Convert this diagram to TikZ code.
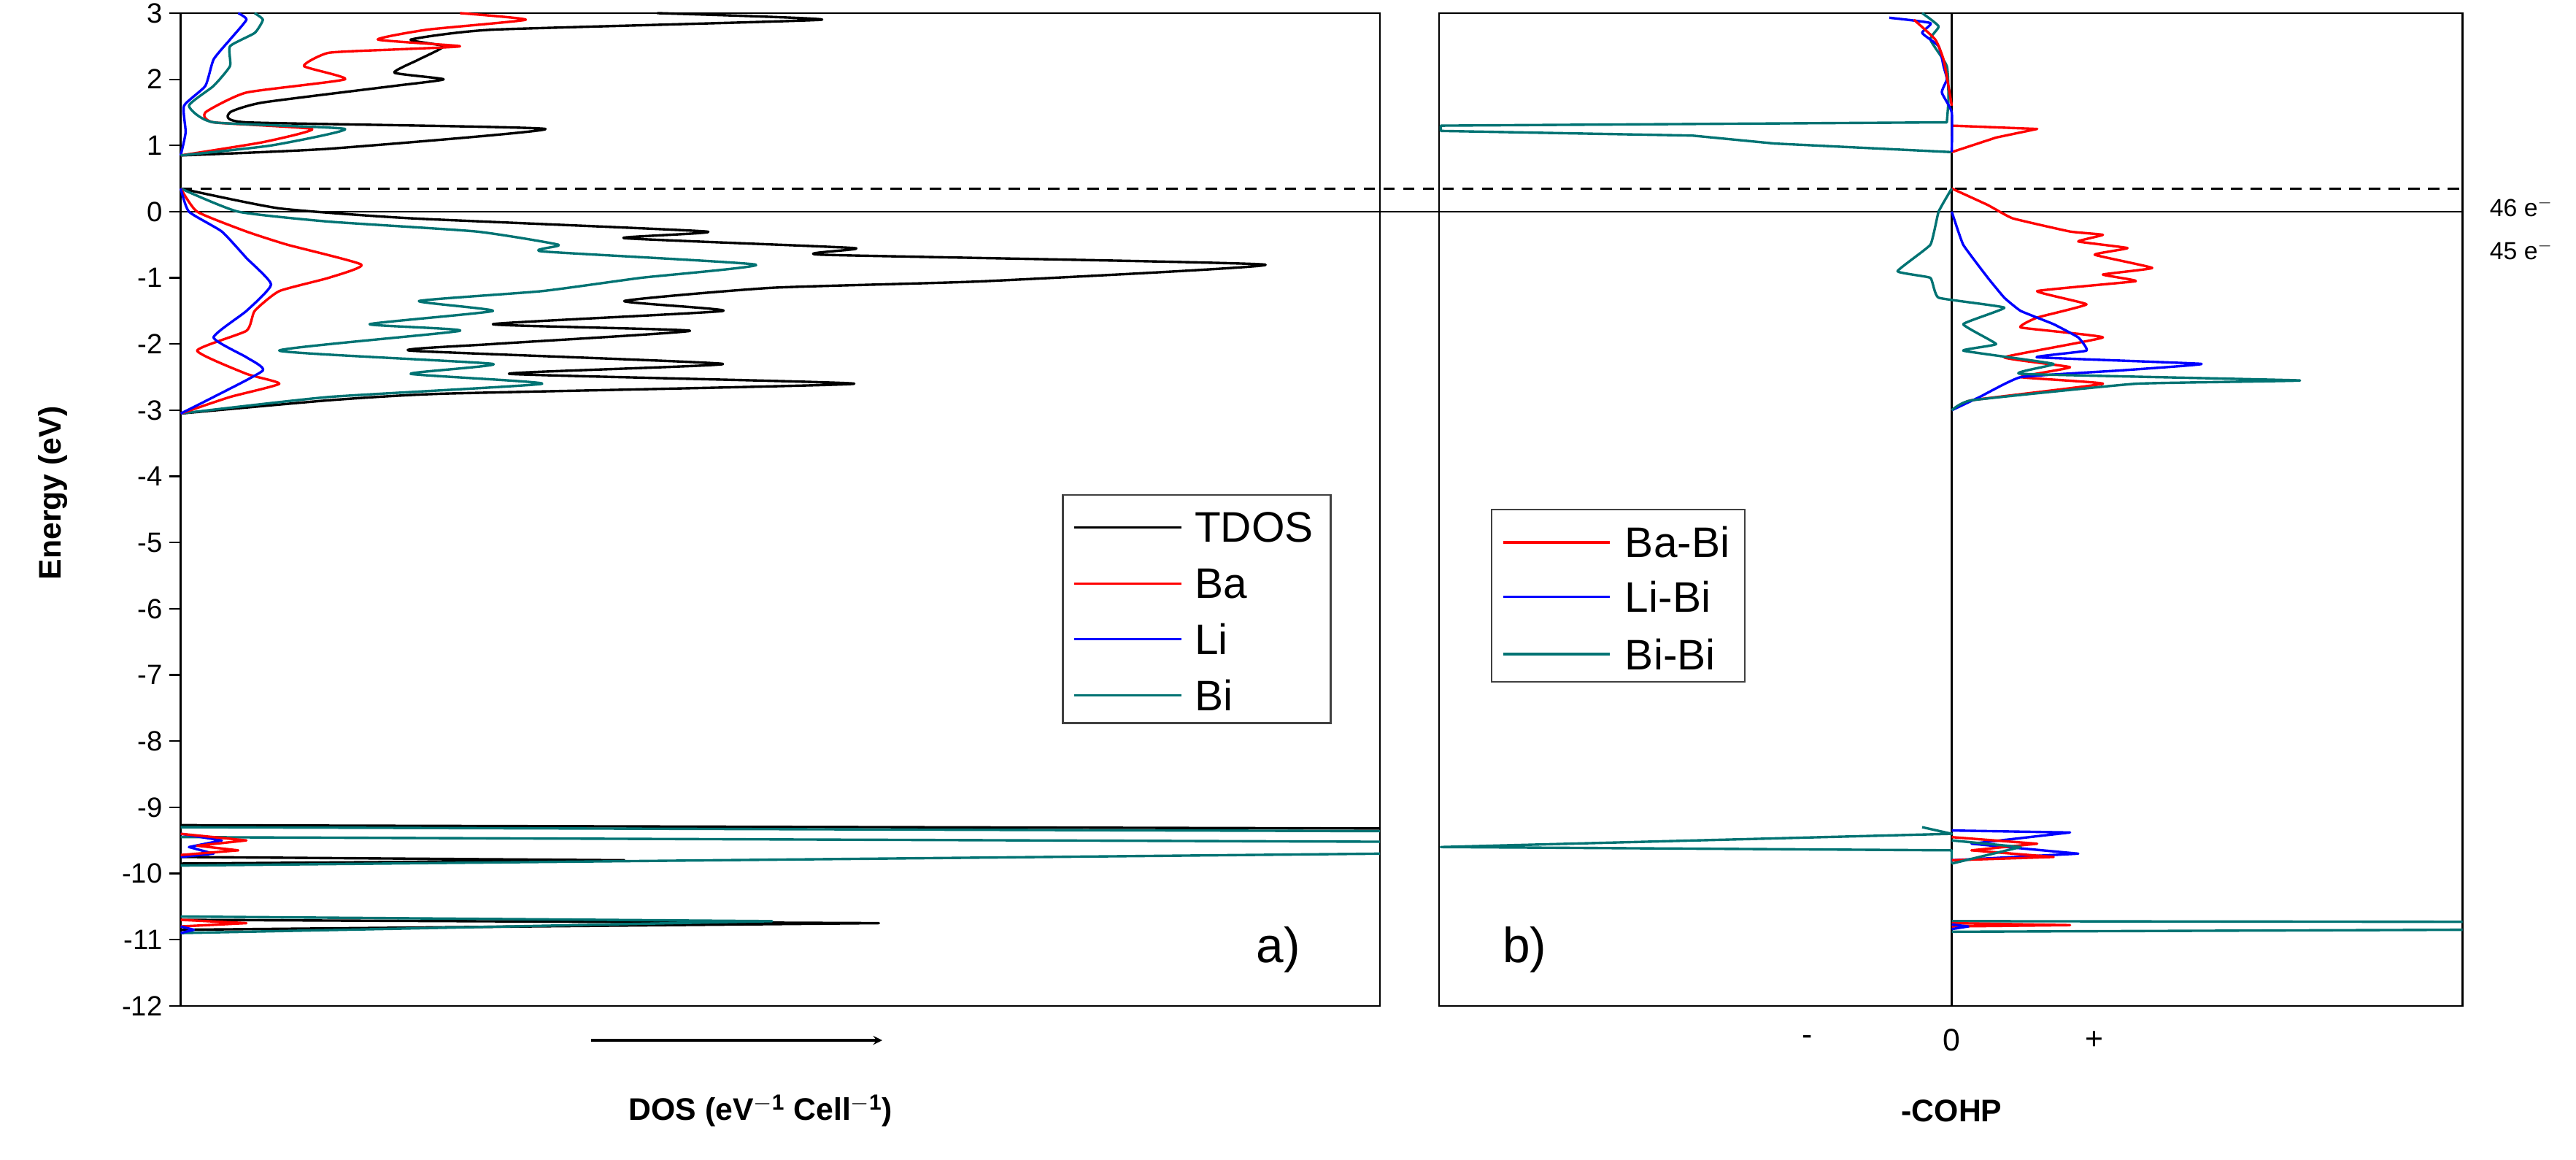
\documentclass[tikz,border=0pt]{standalone}
\usepackage{fontspec}
\setmainfont{Liberation Sans}
\begin{document}
\begin{tikzpicture}[x=1pt,y=1pt,
  crv/.style={line width=1.5pt,line join=round},
  tdos/.style={crv,black}, ba/.style={crv,red}, li/.style={crv,blue}, bi/.style={crv,teal!90!black},
  frame/.style={line width=1.2pt},
  tl/.style={font=\fontsize{17}{17}\selectfont,anchor=east,inner sep=2pt},
  lgt/.style={anchor=west,inner sep=0pt,font=\fontsize{26}{26}\selectfont},
  ttl/.style={font=\bfseries\fontsize{19}{19}\selectfont}]
\definecolor{teal}{RGB}{0,128,128}
\useasboundingbox (0,0) rectangle (1568,-705.4);
\begin{scope}[y=40.27pt,yshift=-128.8pt]
% frames
\draw[frame] (110,-12) rectangle (840,3);
\draw[frame] (876,-12) rectangle (1499,3);
\draw[line width=1pt] (1188,-12) -- (1188,3);
\draw[line width=1.2pt] (110,0) -- (1499,0);
\draw[line width=1.2pt,dash pattern=on 7pt off 5pt] (110,0.35) -- (1499,0.35);
% ticks and labels
\foreach \e in {3,2,...,-12}{
  \draw[line width=1pt] (110,\e) -- (103,\e);
  \node[tl] at (101,\e) {\e};
}
% panel a upper band
\draw[tdos] plot[smooth,tension=0.3] coordinates {(110,0.85)(200,0.95)(332,1.25)(150,1.35)(140,1.5)(160,1.65)(240,1.9)(270,2.0)(240,2.1)(255,2.3)(270,2.5)(250,2.6)(300,2.75)(500,2.9)(400,3.0)};
\draw[ba] plot[smooth,tension=0.3] coordinates {(110,0.85)(160,1.05)(190,1.25)(130,1.35)(125,1.5)(150,1.8)(210,2.0)(185,2.2)(200,2.4)(240,2.45)(280,2.5)(230,2.6)(260,2.75)(320,2.9)(280,3.0)};
\draw[li] plot[smooth,tension=0.3] coordinates {(110,0.85)(113,1.2)(112,1.6)(125,1.9)(130,2.3)(140,2.6)(150,2.9)(145,3.0)};
\draw[bi] plot[smooth,tension=0.3] coordinates {(110,0.85)(165,1.0)(210,1.25)(130,1.35)(115,1.6)(130,1.9)(140,2.2)(140,2.5)(155,2.7)(160,2.9)(155,3.0)};
% panel a lower band
\draw[tdos] plot[smooth,tension=0.3] coordinates {(110,-3.05)(200,-2.85)(270,-2.75)(520,-2.6)(310,-2.45)(440,-2.3)(250,-2.1)(300,-2.0)(420,-1.8)(300,-1.7)(440,-1.5)(380,-1.35)(470,-1.15)(600,-1.05)(770,-0.8)(500,-0.65)(520,-0.55)(380,-0.4)(430,-0.3)(250,-0.1)(170,0.05)(110,0.35)};
\draw[bi] plot[smooth,tension=0.3] coordinates {(110,-3.05)(200,-2.8)(330,-2.6)(250,-2.45)(300,-2.3)(170,-2.1)(280,-1.8)(225,-1.7)(300,-1.5)(255,-1.35)(330,-1.2)(390,-1.0)(460,-0.8)(330,-0.6)(340,-0.5)(290,-0.3)(200,-0.15)(145,0.0)(110,0.35)};
\draw[ba] plot[smooth,tension=0.3] coordinates {(110,-3.05)(140,-2.8)(170,-2.6)(150,-2.45)(120,-2.1)(150,-1.8)(155,-1.5)(170,-1.2)(200,-1.0)(220,-0.8)(175,-0.5)(150,-0.3)(120,0.0)(110,0.35)};
\draw[li] plot[smooth,tension=0.3] coordinates {(110,-3.05)(130,-2.8)(160,-2.4)(150,-2.2)(130,-1.9)(150,-1.5)(165,-1.1)(150,-0.7)(135,-0.3)(115,0)(110,0.35)};
% panel a deep bands
\draw[tdos] (110,-9.27) -- (840,-9.32);
\draw[tdos] (110,-9.75) -- (380,-9.8) -- (110,-9.85);
\draw[bi] (110,-9.3) -- (840,-9.36) (110,-9.45) -- (840,-9.52) (110,-9.88) -- (840,-9.7);
\draw[li] (110,-9.4) -- (135,-9.5) -- (115,-9.6) -- (130,-9.7) -- (110,-9.75);
\draw[ba] (110,-9.4) -- (150,-9.5) -- (120,-9.58) -- (145,-9.65) -- (110,-9.72);
\draw[tdos] (110,-10.7) -- (535,-10.75) -- (110,-10.85);
\draw[bi] (110,-10.65) -- (470,-10.72) -- (110,-10.9);
\draw[ba] (110,-10.7) -- (150,-10.75) -- (110,-10.8);
\draw[li] (110,-10.8) -- (118,-10.85) -- (110,-10.9);
% panel b upper
\draw[bi] plot[smooth,tension=0.3] coordinates {(1170,3.0)(1180,2.8)(1175,2.6)(1185,2.2)(1186,1.7)(1185,1.35)} -- (877,1.3) -- (877,1.22) -- (1030,1.15) -- (1080,1.03) -- (1188,0.9);
\draw[ba] (1188,1.3) -- (1240,1.25) -- (1215,1.12) -- (1188,0.9);
\draw[li] plot[smooth,tension=0.3] coordinates {(1150,2.93)(1175,2.85)(1170,2.7)(1180,2.5)(1183,2.2)(1185,2.0)(1182,1.8)(1188,1.5)(1188,0.9)};
\draw[ba] plot[smooth,tension=0.3] coordinates {(1165,2.9)(1178,2.6)(1183,2.3)(1186,1.9)(1188,1.6)};
% panel b lower
\draw[ba] plot[smooth,tension=0.2] coordinates {(1188,0.35)(1210,0.1)(1225,-0.1)(1260,-0.3)(1280,-0.35)(1265,-0.45)(1295,-0.55)(1275,-0.65)(1310,-0.85)(1280,-0.95)(1300,-1.05)(1240,-1.2)(1270,-1.4)(1240,-1.6)(1230,-1.75)(1280,-1.9)(1220,-2.2)(1260,-2.35)(1230,-2.5)(1280,-2.6)(1200,-2.85)(1188,-3.0)};
\draw[li] plot[smooth,tension=0.2] coordinates {(1188,0.0)(1195,-0.5)(1210,-1.0)(1220,-1.3)(1230,-1.5)(1250,-1.7)(1265,-1.9)(1270,-2.1)(1240,-2.2)(1340,-2.3)(1290,-2.4)(1230,-2.5)(1205,-2.8)(1188,-3.0)};
\draw[bi] plot[smooth,tension=0.2] coordinates {(1188,0.35)(1180,0)(1175,-0.5)(1155,-0.9)(1175,-1.0)(1180,-1.3)(1220,-1.45)(1195,-1.7)(1215,-2.0)(1195,-2.1)(1250,-2.3)(1230,-2.45)(1400,-2.55)(1300,-2.6)(1200,-2.85)(1188,-3.0)};
% panel b deep
\draw[bi] (1170,-9.3) -- (1188,-9.4) -- (877,-9.6) -- (1188,-9.65) -- (1188,-9.85);
\draw[li] (1188,-9.35) -- (1260,-9.38) -- (1200,-9.55) -- (1265,-9.7) -- (1188,-9.8);
\draw[ba] (1188,-9.45) -- (1240,-9.55) -- (1200,-9.65) -- (1250,-9.75) -- (1188,-9.8);
\draw[bi] (1188,-9.5) -- (1230,-9.6) -- (1188,-9.85);
\draw[bi] (1188,-10.72) -- (1499,-10.73) (1499,-10.85) -- (1188,-10.88);
\draw[ba] (1188,-10.75) -- (1260,-10.78) -- (1188,-10.8);
\draw[li] (1188,-10.77) -- (1198,-10.8) -- (1188,-10.84);
\end{scope}
% legends
\draw[line width=1pt,black!75] (647,-301) rectangle (810,-440);
\foreach \n/\s/\t/\yy in {TDOS/tdos/TDOS/-321,Ba/ba/Ba/-355,Li/li/Li/-389,Bi/bi/Bi/-423}{
  \draw[\s] (654,\yy) -- (719,\yy);
  \node[lgt] (la\n) at (727,\yy) {\t};
}
\draw[line width=1pt,black!75] (908,-310) rectangle (1062,-415);
\foreach \n/\s/\t/\yy in {a/ba/Ba-Bi/-330,b/li/Li-Bi/-363,c/bi/Bi-Bi/-398}{
  \draw[\s] (915,\yy) -- (980,\yy);
  \node[lgt] (lb\n) at (989,\yy) {\t};
}
% labels
\node[font=\fontsize{30}{30}\selectfont] (pa) at (778,-578) {a)};
\node[font=\fontsize{30}{30}\selectfont] (pb) at (928,-578) {b)};
\node[ttl,rotate=90] (ylab) at (32,-300) {Energy (eV)};
\node[ttl] (xa) at (463,-676) {DOS (eV$^{\mathbf{-1}}$ Cell$^{\mathbf{-1}}$)};
\node[ttl] (xb) at (1188,-676) {-COHP};
\coordinate (ar1) at (360,-633); \coordinate (ar2) at (537,-633);
\draw[line width=1.4pt,-stealth] (ar1) -- (ar2);
\node[font=\fontsize{19}{19}\selectfont] (mn) at (1100,-633) {-};
\node[font=\fontsize{19}{19}\selectfont] (zr) at (1188,-633) {0};
\node[font=\fontsize{19}{19}\selectfont] (pl) at (1275,-633) {+};
\node[font=\fontsize{15}{15}\selectfont,anchor=west] (e46) at (1512,-126) {46 e$^{-}$};
\node[font=\fontsize{15}{15}\selectfont,anchor=west] (e45) at (1512,-152) {45 e$^{-}$};
\end{tikzpicture}
\end{document}
